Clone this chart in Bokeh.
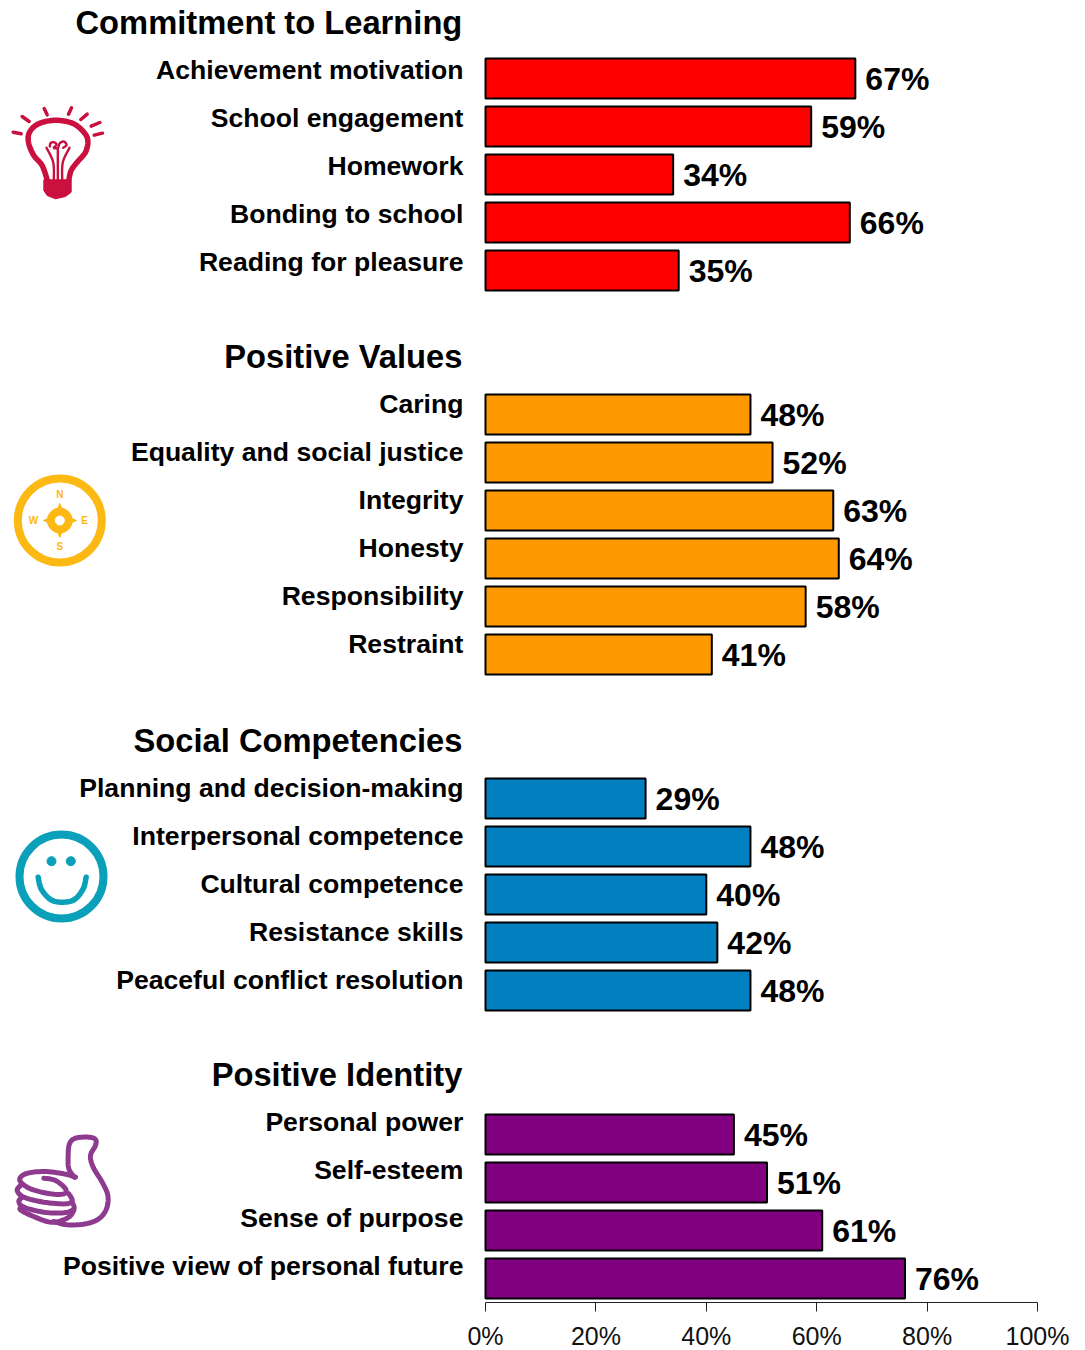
from bokeh.plotting import figure
from bokeh.models import Range1d, LinearAxis, FixedTicker, ColumnDataSource, CustomJSTickFormatter
from bokeh.core.properties import value
from bokeh.embed import file_html
from bokeh.resources import INLINE
import numpy as np

group_titles = ["Commitment to Learning", "Positive Values", "Social Competencies", "Positive Identity"]
learning_labels = ["Achievement motivation", "School engagement", "Homework", "Bonding to school", "Reading for pleasure"]
learning_values = [67, 59, 34, 66, 35]
values_labels = ["Caring", "Equality and social justice", "Integrity", "Honesty", "Responsibility", "Restraint"]
values_values = [48, 52, 63, 64, 58, 41]
social_labels = ["Planning and decision-making", "Interpersonal competence", "Cultural competence", "Resistance skills", "Peaceful conflict resolution"]
social_values = [29, 48, 40, 42, 48]
identity_labels = ["Personal power", "Self-esteem", "Sense of purpose", "Positive view of personal future"]
identity_values = [45, 51, 61, 76]
group_colors = ["#FF0000", "#FF9900", "#0080C0", "#800080"]
tick_values = [0, 20, 40, 60, 80, 100]

W, H = 1085, 1350
X0, X100 = 485, 1037
AX_Y = 1302
PX = (X100 - X0) / 100
FONT = value("Liberation Sans")

p = figure(width=W, height=H, output_backend="svg", toolbar_location=None,
           x_range=Range1d(-X0 / PX, (W - X0) / PX),
           y_range=Range1d((AX_Y - 78) / 48, -78 / 48),
           min_border_left=0, min_border_right=0, min_border_top=0,
           min_border_bottom=0, x_axis_location=None, y_axis_location=None)
p.frame_height = AX_Y
p.frame_width = W
p.outline_line_color = None
p.background_fill_color = "white"
p.grid.visible = False
p.extra_x_ranges["px"] = Range1d(0, W)
p.extra_y_ranges["px"] = Range1d(AX_Y, 0)

axis = LinearAxis(ticker=FixedTicker(ticks=tick_values), bounds=(0, 100))
axis.formatter = CustomJSTickFormatter(code="return tick + '%';")
axis.major_tick_in = 0
axis.major_tick_out = 9
axis.minor_tick_line_color = None
axis.axis_line_color = "#222222"
axis.major_tick_line_color = "#222222"
axis.major_label_text_font = "Liberation Sans"
axis.major_label_text_font_size = "25px"
axis.major_label_text_color = "#111111"
axis.major_label_standoff = 10
p.add_layout(axis, "below")

groups = [(learning_labels, learning_values), (values_labels, values_values),
          (social_labels, social_values), (identity_labels, identity_values)]
title_rise = [1.17, 1.2, 1.2, 1.25]
label_rise = [9, 11, 11, 13]
row = 0
for title, (labels, vals), color, rise, lrise in zip(group_titles, groups, group_colors, title_rise, label_rise):
    rows = list(range(row, row + len(vals)))
    src = ColumnDataSource(dict(y=rows, v=vals, lab=labels, pct=[f"{v}%" for v in vals]))
    p.hbar(y="y", right="v", left=0, height=40 / 48, source=src, fill_color=color,
           line_color="black", line_width=2)
    p.text(x="v", y="y", text="pct", source=src, x_offset=10, y_offset=0, text_baseline="middle",
           text_font=FONT, text_font_style="bold", text_font_size="32px", text_color="black")
    p.text(x=-4, y="y", text="lab", source=src, y_offset=-lrise, text_align="right", text_baseline="middle",
           text_font=FONT, text_font_style="bold", text_font_size="26.6px", text_color="black")
    p.text(x=[-4.2], y=[row - rise], text=[title], text_align="right", text_baseline="middle",
           text_font=FONT, text_font_style="bold", text_font_size="32.7px", text_color="black")
    row += len(vals) + 2


def smooth(pts, n=8):
    pts = np.array(pts, float)
    P = np.vstack([pts[0], pts, pts[-1]])
    out = []
    for i in range(1, len(P) - 2):
        for t in np.linspace(0, 1, n, endpoint=False):
            a, b, c, d = P[i - 1], P[i], P[i + 1], P[i + 2]
            out.append(0.5 * (2 * b + (c - a) * t + (2 * a - 5 * b + 4 * c - d) * t ** 2 + (3 * b - a - 3 * c + d) * t ** 3))
    out.append(P[-2])
    return np.array(out)


def crop(pts, ox, oy):
    return [(ox + x / 3, oy + y / 3) for x, y in pts]


def stroke(pts, color, lw, ox=0, oy=0, round_=True):
    s = smooth(crop(pts, ox, oy)) if round_ else np.array(crop(pts, ox, oy))
    p.line(s[:, 0], s[:, 1], line_color=color, line_width=lw, line_cap="round", line_join="round",
           x_range_name="px", y_range_name="px")


# lightbulb icon
RED = "#C9103F"
bulb = [(140, 268), (125, 225), (100, 195), (85, 160), (85, 130), (105, 105), (140, 92), (180, 90), (220, 100),
        (250, 125), (262, 150), (255, 185), (230, 215), (212, 240), (205, 268)]
stroke(bulb, RED, 5.5, 0, 90)
base = crop([(130, 268), (212, 268), (212, 305), (195, 318), (165, 325), (140, 315), (130, 300)], 0, 90)
p.patch([a for a, _ in base], [b for _, b in base], fill_color=RED, line_color=RED,
        x_range_name="px", y_range_name="px")
for ray in [[(38, 125), (62, 130)], [(65, 78), (86, 93)], [(131, 54), (140, 73)], [(213, 52), (204, 71)],
            [(260, 71), (241, 87)], [(298, 96), (272, 107)], [(306, 128), (281, 134)]]:
    stroke(ray, RED, 3.5, 0, 90, False)
for fil in [[(160, 268), (158, 215), (138, 172)], [(172, 268), (172, 200), (172, 172)], [(185, 268), (187, 215), (207, 172)],
            [(148, 168), (150, 158), (160, 155), (168, 162), (160, 172), (172, 172), (178, 158), (190, 153), (198, 163), (188, 172)]]:
    stroke(fil, RED, 2.4, 0, 90)

# compass icon
GOLD = "#FDB913"
p.scatter([59.3], [520], size=84, marker="circle", fill_color=None, line_color=GOLD, line_width=8,
          x_range_name="px", y_range_name="px")
star = [(59.3, 503), (64, 515), (76, 520), (64, 525), (59.3, 537), (54.6, 525), (43, 520), (54.6, 515)]
p.patch([a for a, _ in star], [b for _, b in star], fill_color=GOLD, line_color=GOLD,
        x_range_name="px", y_range_name="px")
p.scatter([59.3], [520], size=25, marker="circle", fill_color=GOLD, line_color=GOLD,
          x_range_name="px", y_range_name="px")
p.scatter([59.3], [520], size=9, marker="circle", fill_color="white", line_color="white",
          x_range_name="px", y_range_name="px")
p.text([59.3, 59.3, 84, 33], [494, 546, 520, 520], text=["N", "S", "E", "W"], text_align="center",
       text_baseline="middle", text_font=FONT, text_font_style="bold", text_font_size="10px", text_color=GOLD,
       x_range_name="px", y_range_name="px")

# smiley icon
TEAL = "#0AA0B9"
p.scatter([61], [876], size=84, marker="circle", fill_color=None, line_color=TEAL, line_width=8,
          x_range_name="px", y_range_name="px")
p.scatter([51, 70.3], [860.7, 860.7], size=9, marker="circle", fill_color=TEAL, line_color=TEAL,
          x_range_name="px", y_range_name="px")
smile = [(113, 170), (122, 205), (150, 237), (185, 245), (222, 237), (248, 205), (257, 170)]
stroke(smile, TEAL, 5.5, 0, 820)

# thumbs-up icon
PURPLE = "#8E3A8F"
for path in [
    [(222, 155), (205, 130), (203, 90), (207, 55), (225, 38), (265, 35), (285, 42), (285, 60), (270, 90), (278, 125),
     (305, 170), (322, 210), (318, 250), (295, 280), (255, 295), (200, 298), (160, 288)],
    [(130, 158), (165, 165), (195, 190), (190, 205), (150, 205), (90, 190), (58, 165), (75, 145), (130, 138), (190, 145), (225, 155)],
    [(60, 180), (50, 195), (70, 215), (130, 230), (195, 235), (215, 225), (205, 205)],
    [(65, 215), (55, 228), (70, 245), (130, 260), (190, 262), (220, 250), (215, 230)],
    [(70, 245), (58, 250), (75, 262), (130, 285), (165, 290), (205, 275), (220, 255)],
]:
    stroke(path, PURPLE, 5, 0, 1125)

open("out.html", "w").write(file_html(p, INLINE))
